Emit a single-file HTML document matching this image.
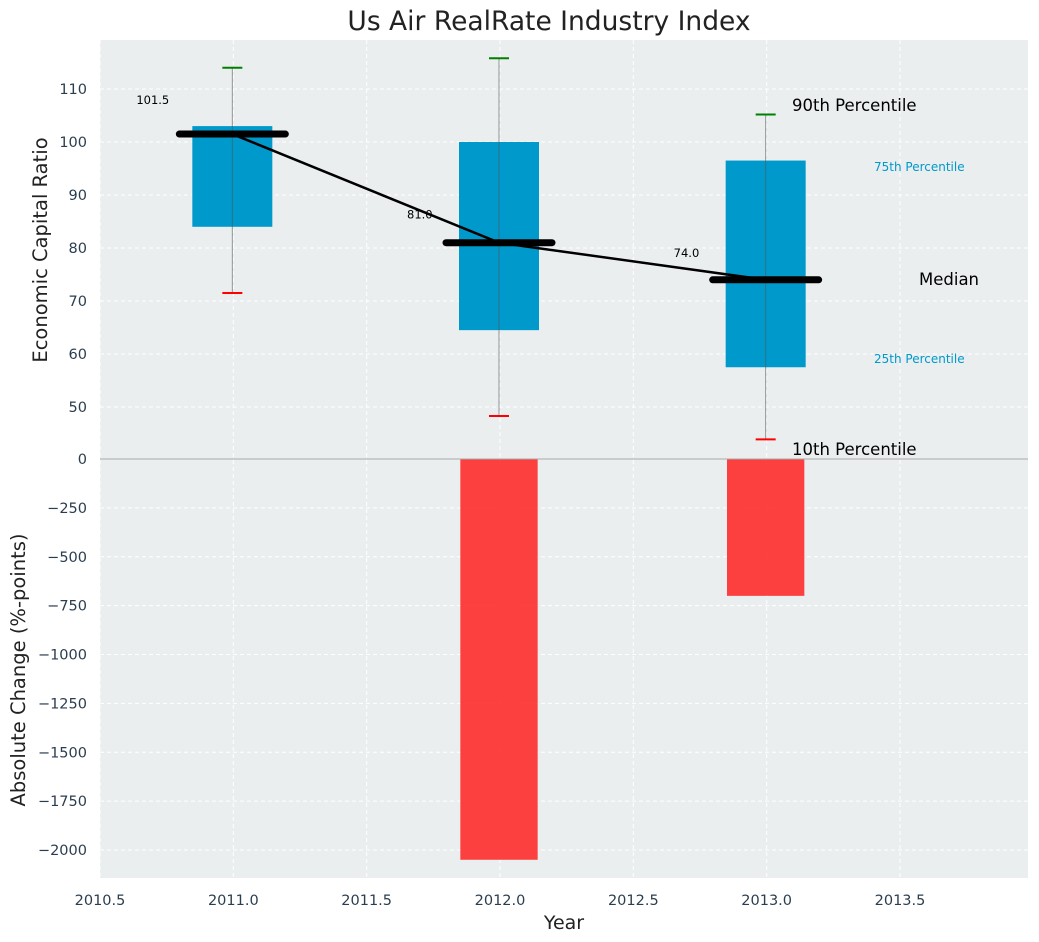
<!DOCTYPE html>
<html><head><meta charset="utf-8"><style>
body{margin:0;background:#fff;}
svg{display:block;font-family:"DejaVu Sans","Liberation Sans",sans-serif;}
</style></head><body>
<svg id="chart" width="1039" height="942" xmlns="http://www.w3.org/2000/svg"></svg>
<script>
const years=[2011,2012,2013];
const p10=[71.5,48.3,43.9];
const p25=[84,64.5,57.5];
const medians=[101.5,81.0,74.0];
const p75=[103,100,96.5];
const p90=[114,115.8,105.2];
const changes=[0,-2050,-700];
const xTicks=[2010.5,2011.0,2011.5,2012.0,2012.5,2013.0,2013.5];
const yTopTicks=[50,60,70,80,90,100,110];
const yBotTicks=[0,-250,-500,-750,-1000,-1250,-1500,-1750,-2000];

const L=100,R=1028,T1=40,B1=459,T2=459,B2=878;
const xS=v=>L+(v-2010.5)*(R-L)/(2013.98-2010.5);
const yTop=v=>89+(110-v)*5.3;
const yBot=v=>459+(0-v)*0.1955;
const NS='http://www.w3.org/2000/svg';
const svg=document.getElementById('chart');
function el(t,a,txt){const e=document.createElementNS(NS,t);for(const k in a)e.setAttribute(k,a[k]);if(txt!==undefined)e.textContent=txt;svg.appendChild(e);return e;}

let e=el('rect',{x:L,y:T1,width:R-L,height:B1-T1,fill:'#eaeeef'});

e=el('rect',{x:L,y:T2,width:R-L,height:B2-T2,fill:'#eaeeef'});


xTicks.forEach(t=>{
  e=el('line',{x1:xS(t),x2:xS(t),y1:T1,y2:B2,stroke:'#fff','stroke-dasharray':'4,3','stroke-width':1});
  
  e=el('text',{x:xS(t),y:905,'text-anchor':'middle','font-size':14.5,fill:'#2b3e50'},t.toFixed(1));
  
});
yTopTicks.forEach(t=>{
  e=el('line',{x1:L,x2:R,y1:yTop(t),y2:yTop(t),stroke:'#fff','stroke-dasharray':'4,3'});
  
  e=el('text',{x:87,y:yTop(t)+5,'text-anchor':'end','font-size':14.5,fill:'#2b3e50'},t);
  
});
yBotTicks.forEach(t=>{
  e=el('line',{x1:L,x2:R,y1:yBot(t),y2:yBot(t),stroke:'#fff','stroke-dasharray':'4,3'});
  
  e=el('text',{x:87,y:yBot(t)+5,'text-anchor':'end','font-size':14.5,fill:'#2b3e50'},String(t).replace('-','\u2212'));
  
});

const bw=0.3*(R-L)/3.48;
years.forEach((y,i)=>{
  const cx=xS(y)-1;
  e=el('rect',{x:cx-bw/2,y:yTop(p75[i]),width:bw,height:yTop(p25[i])-yTop(p75[i]),fill:'#0099cc'});
  
  e=el('line',{x1:cx,x2:cx,y1:yTop(p90[i]),y2:yTop(p10[i]),stroke:'#555','stroke-opacity':0.6,'stroke-width':1});
  
  e=el('line',{x1:cx-10,x2:cx+10,y1:yTop(p90[i]),y2:yTop(p90[i]),stroke:'green','stroke-width':2});
  
  e=el('line',{x1:cx-10,x2:cx+10,y1:yTop(p10[i]),y2:yTop(p10[i]),stroke:'red','stroke-width':2});
  
  const rb=0.29*(R-L)/3.48;
  if(changes[i]!==0){
    e=el('rect',{x:cx-rb/2,y:yBot(0),width:rb,height:yBot(changes[i])-yBot(0),fill:'#ff2020','fill-opacity':0.85});
    
  }
});
e=el('polyline',{points:years.map((y,i)=>(xS(y)-1)+','+yTop(medians[i])).join(' '),fill:'none',stroke:'#000','stroke-width':2.5});

const labOff=[[-96,-30],[-92,-24],[-92,-23]];
years.forEach((y,i)=>{
  const cx=xS(y)-1,my=yTop(medians[i]);
  e=el('line',{x1:cx-53,x2:cx+53,y1:my,y2:my,stroke:'#000','stroke-width':7,'stroke-linecap':'round'});
  
  e=el('text',{x:cx+labOff[i][0],y:my+labOff[i][1],'font-size':11.5,fill:'#000'},medians[i].toFixed(1));
  
});
e=el('line',{x1:L,x2:R,y1:459,y2:459,stroke:'#aaa','stroke-width':1});


[['90th Percentile',792,111,16.5,'#000','annotation-90th'],['75th Percentile',874,171,12,'#0099cc','annotation-75th'],
 ['Median',919,285,16.5,'#000','annotation-median'],['25th Percentile',874,363,12,'#0099cc','annotation-25th'],
 ['10th Percentile',792,455,16.5,'#000','annotation-10th']].forEach(a=>{
  e=el('text',{x:a[1],y:a[2],'font-size':a[3],fill:a[4]},a[0]);
  
});

e=el('text',{x:549,y:30,'text-anchor':'middle','font-size':26.5,fill:'#222'},'Us Air RealRate Industry Index');

e=el('text',{x:564,y:929,'text-anchor':'middle','font-size':19,fill:'#222'},'Year');

e=el('text',{x:0,y:0,'text-anchor':'middle','font-size':19.5,fill:'#222',transform:'translate(47,250) rotate(-90)'},'Economic Capital Ratio');

e=el('text',{x:0,y:0,'text-anchor':'middle','font-size':19.5,fill:'#222',transform:'translate(25,670) rotate(-90)'},'Absolute Change (%-points)');

</script>
</body></html>
